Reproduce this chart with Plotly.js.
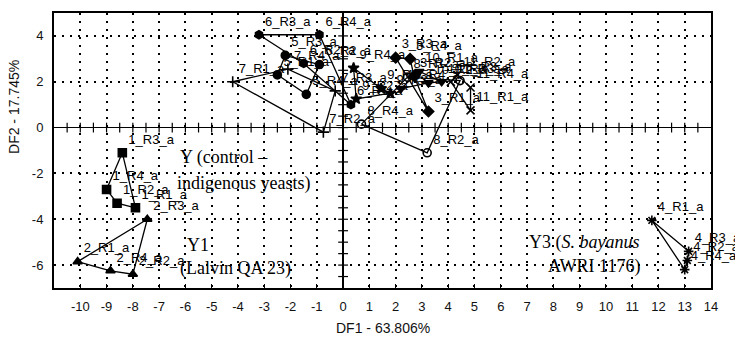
<!DOCTYPE html>
<html>
<head>
<meta charset="utf-8">
<script src="https://cdn.plot.ly/plotly-3.0.1.min.js"></script>
<style>html,body{margin:0;padding:0;background:#fff;}#chart{width:735px;height:340px;}</style>
</head>
<body>
<div id="chart"></div>
<script>
// ---- axis ticks ----
const xTicks = [-10,-9,-8,-7,-6,-5,-4,-3,-2,-1,0,1,2,3,4,5,6,7,8,9,10,11,12,13,14];
const xTickText = ['-10','-9','-8','-7','-6','-5','-4','-3','-2','-1','0','1','2','3','4','5','6','7','8','9','10','11','12','13','14'];
const yTicks = [-6,-4,-2,0,2,4];
const yTickText = ['-6','-4','-2','0','2','4'];

// ---- groups (DF1, DF2 scores) ----
const g1Labels = ['1_R3_a','1_R4_a','1_R2_a','1_R1_a'];
const g1X = [-8.4,-9.0,-8.6,-7.9];
const g1Y = [-1.1,-2.7,-3.3,-3.5];

const g2Labels = ['2_R1_a','2_R3_a','2_R2_a','2_R4_a'];
const g2X = [-10.1,-7.45,-8.0,-8.85];
const g2Y = [-5.85,-4.0,-6.4,-6.25];

const g4Labels = ['4_R1_a','4_R3_a','4_R2_a','4_R4_a'];
const g4X = [11.75,13.15,13.1,13.0];
const g4Y = [-4.05,-5.4,-5.8,-6.2];

const g3Labels = ['3_R3_a','3_R4_a','3_R2_a','3_R1_a'];
const g3X = [2.0,2.55,2.7,3.25];
const g3Y = [3.05,3.0,2.25,0.7];

const g5Labels = ['5_R3_a','5_R2_a','5_R4_a','5_R1_a'];
const g5X = [-2.2,-0.9,-1.4,-2.5];
const g5Y = [3.15,2.75,1.45,2.3];

const g6Labels = ['6_R3_a','6_R4_a','6_R1_a','6_R2_a'];
const g6X = [-3.2,-0.9,0.3,-1.5];
const g6Y = [4.05,4.05,1.0,2.8];

const g7Labels = ['7_R1_a','7_R4_a','7_R3_a','7_R2_a'];
const g7X = [-4.2,-2.1,-0.3,-0.75];
const g7Y = [2.0,2.55,1.6,-0.2];

const g8Labels = ['8_R4_a','8_R1_a','8_R3_a','8_R2_a'];
const g8X = [0.7,2.45,4.45,3.2];
const g8Y = [0.15,2.2,2.05,-1.1];

const g9Labels = ['9_R4_a','9_R1_a','9_R3_a','9_R2_a'];
const g9X = [0.4,1.45,1.8,0.5];
const g9Y = [2.6,1.7,1.5,1.25];

const g10Labels = ['10_R1_a','10_R3_a','10_R2_a','10_R4_a'];
const g10X = [2.9,3.75,3.25,2.2];
const g10Y = [2.45,2.0,1.95,1.7];

const g11Labels = ['11_R2_a','11_R4_a','11_R1_a','11_R3_a'];
const g11X = [4.35,4.85,4.85,4.1];
const g11Y = [2.3,1.75,0.75,2.0];

const groupNames = ['Y','Y1','Y3','G3','G5','G6','G7','G8','G9','G10','G11'];
const groupX = [g1X,g2X,g4X,g3X,g5X,g6X,g7X,g8X,g9X,g10X,g11X];
const groupY = [g1Y,g2Y,g4Y,g3Y,g5Y,g6Y,g7Y,g8Y,g9Y,g10Y,g11Y];
const groupLabels = [g1Labels,g2Labels,g4Labels,g3Labels,g5Labels,g6Labels,g7Labels,g8Labels,g9Labels,g10Labels,g11Labels];
const groupSymbols = ['square','triangle-up','asterisk-open','diamond','circle','hexagon','cross-thin-open','circle-open','star','triangle-down','x-thin-open'];

const labelFont = {family:'Liberation Sans, Arial, sans-serif', size:13, color:'#000'};
const traces = [];
groupNames.forEach((name,i)=>{
  const xs = groupX[i], ys = groupY[i];
  traces.push({
    type:'scatter', mode:'lines', x: xs.concat([xs[0]]), y: ys.concat([ys[0]]),
    line:{color:'#000', width:1.3}, hoverinfo:'skip', showlegend:false
  });
  traces.push({
    type:'scatter', mode:'markers+text', x: xs, y: ys, text: groupLabels[i],
    textposition:'top right', textfont: labelFont, cliponaxis:false,
    marker:{symbol: groupSymbols[i], color:'#000', size:8, line:{color:'#000', width:1.6}},
    name:name, showlegend:false
  });
});

// small cross ticks along the zero axes, at half-unit steps of the axes' ranges
const xr = [-11,14], yr = [-7,5];
const zx = [], zy = [];
for (let v = xr[0]+0.5; v < xr[1]; v += 0.5) { zx.push(v); }
for (let v = yr[0]+0.5; v < yr[1]; v += 0.5) { zy.push(v); }
traces.push({type:'scatter', mode:'markers', x: zx, y: zx.map(()=>0), hoverinfo:'skip', showlegend:false,
  marker:{symbol:'line-ns-open', size:7, color:'#000', line:{color:'#000', width:1.2}}});
traces.push({type:'scatter', mode:'markers', x: zy.map(()=>0), y: zy, hoverinfo:'skip', showlegend:false,
  marker:{symbol:'line-ew-open', size:7, color:'#000', line:{color:'#000', width:1.2}}});

const serif = {family:'Liberation Serif, Times New Roman, serif', size:18, color:'#000'};
const tickFont = {family:'Liberation Sans, Arial, sans-serif', size:13, color:'#111'};
const layout = {
  width:735, height:340,
  margin:{l:54, r:24, t:13, b:52},
  paper_bgcolor:'#fff', plot_bgcolor:'#fff',
  showlegend:false,
  xaxis:{range:xr, tickmode:'array', tickvals:xTicks, ticktext:xTickText,
    showgrid:true, gridcolor:'#000', gridwidth:2, griddash:'2px,6px',
    zeroline:true, zerolinecolor:'#000', zerolinewidth:1.6,
    showline:true, mirror:true, linecolor:'#000', linewidth:2,
    ticks:'inside', ticklen:4, tickcolor:'#000', ticklabelstandoff:5,
    tickfont:tickFont},
  yaxis:{range:yr, tickmode:'array', tickvals:yTicks, ticktext:yTickText,
    showgrid:true, gridcolor:'#000', gridwidth:2, griddash:'2px,6px',
    zeroline:true, zerolinecolor:'#000', zerolinewidth:1.6,
    showline:true, mirror:true, linecolor:'#000', linewidth:2,
    ticks:'', ticklabelstandoff:6, tickfont:tickFont},
  annotations:[
    {xref:'paper', yref:'paper', x:0.5, y:-0.145, text:'DF1 - 63.806%', showarrow:false,
     font:{family:'Liberation Sans, Arial, sans-serif', size:14, color:'#111'}, xanchor:'center', yanchor:'middle'},
    {xref:'paper', yref:'paper', x:-0.061, y:0.658, text:'DF2 - 17.745%', showarrow:false, textangle:-90,
     font:{family:'Liberation Sans, Arial, sans-serif', size:14, color:'#111'}, xanchor:'center', yanchor:'middle'},
    {x:-6.3, y:-1.3, text:'Y (control –', showarrow:false, xanchor:'left', yanchor:'middle', font:serif},
    {x:-6.4, y:-2.43, text:'indigenous yeasts)', showarrow:false, xanchor:'left', yanchor:'middle', font:serif},
    {x:-6.0, y:-5.13, text:'Y1', showarrow:false, xanchor:'left', yanchor:'middle', font:serif},
    {x:-6.3, y:-6.13, text:'(Lalvin QA 23)', showarrow:false, xanchor:'left', yanchor:'middle', font:serif},
    {x:7.0, y:-5.0, text:'Y3 (<i>S. bayanus</i>', showarrow:false, xanchor:'left', yanchor:'middle', font:serif},
    {x:7.72, y:-6.04, text:'AWRI 1176)', showarrow:false, xanchor:'left', yanchor:'middle', font:serif}
  ]
};
Plotly.newPlot('chart', traces, layout, {staticPlot:true, displayModeBar:false});
</script>
</body>
</html>
